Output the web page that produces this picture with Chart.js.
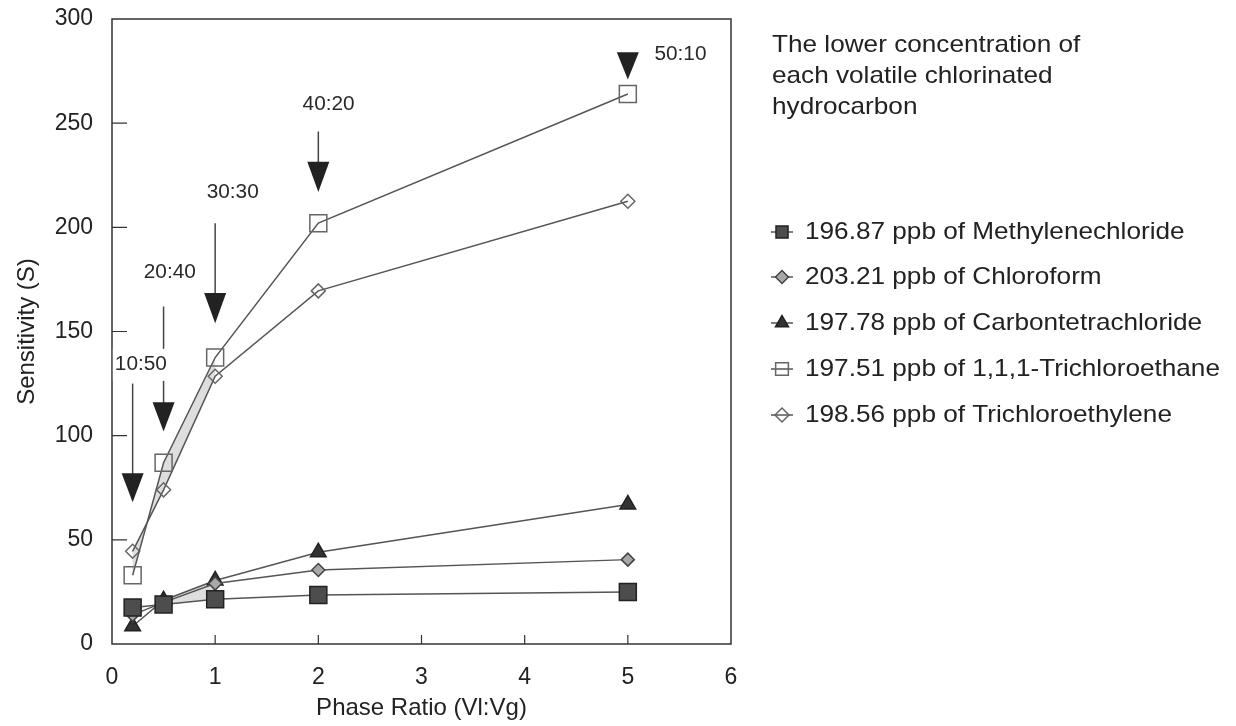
<!DOCTYPE html>
<html><head><meta charset="utf-8">
<script src="https://cdn.jsdelivr.net/npm/chart.js@4"></script>
<style>html,body{margin:0;padding:0;background:#fff}#wrap{width:1236px;height:726px}</style>
</head><body><div id="wrap"><canvas id="c" width="1236" height="726"></canvas></div>
<script>
// ---- data ----
const phaseRatios = [0.2, 0.5, 1, 2, 5];
const methylenechloride = [17.5, 19, 21.5, 23.5, 25];
const chloroform = [14, 20, 29, 35.5, 40.5];
const carbontetrachloride = [8.5, 21, 30.5, 44, 67];
const trichloroethane = [33, 87, 137.5, 202, 264];
const trichloroethylene = [44.5, 74, 128.5, 169.5, 212.5];
const seriesLabels = [
  '196.87 ppb of Methylenechloride',
  '203.21 ppb of Chloroform',
  '197.78 ppb of Carbontetrachloride',
  '197.51 ppb of 1,1,1-Trichloroethane',
  '198.56 ppb of Trichloroethylene'
];
const legendTitle = ['The lower concentration of', 'each volatile chlorinated', 'hydrocarbon'];
const xTicks = [0, 1, 2, 3, 4, 5, 6];
const yTicks = [0, 50, 100, 150, 200, 250, 300];
// arrow annotations (Vl:Vg) in data units
const arrowLabels = ['10:50', '20:40', '30:30', '40:20', '50:10'];
const arrowLineTop = [125, 162, 202, 246, null];
const arrowHeadTop = [82, 116, 168.5, 231.5, 284];
const arrowTip = [68, 102, 154, 217, 271];
const arrowLabelX = [0.28, 0.56, 1.17, 2.1, 5.51];
const arrowLabelY = [134, 178.5, 216.5, 259, 283];
// shaded bands between series (dataset index pairs, point index range)
const bands = [[3, 4, 0, 2], [2, 0, 1, 2]];

const FONT = '"Liberation Sans", Arial, sans-serif';
const TXT = '#222';
const LINE = '#555';

const styles = [
  {pointStyle: 'rect', radius: 12, bg: '#4d4d4d', border: '#222', lr: 8.5},
  {pointStyle: 'rectRot', radius: 6.5, bg: '#a8a8a8', border: '#444', lr: 6.5},
  {pointStyle: 'triangle', radius: 9, bg: '#333', border: '#222', lr: 7.5},
  {pointStyle: 'rect', radius: 12, bg: 'rgba(0,0,0,0)', border: '#666', lr: 9},
  {pointStyle: 'rectRot', radius: 7, bg: 'rgba(0,0,0,0)', border: '#666', lr: 7}
];
const seriesData = [methylenechloride, chloroform, carbontetrachloride, trichloroethane, trichloroethylene];

const datasets = seriesData.map((vals, i) => ({
  label: seriesLabels[i],
  data: phaseRatios.map((x, j) => ({x: x, y: vals[j]})),
  borderColor: LINE,
  borderWidth: 1.5,
  pointStyle: styles[i].pointStyle,
  pointRadius: styles[i].radius,
  pointBackgroundColor: styles[i].bg,
  pointBorderColor: styles[i].border,
  pointBorderWidth: 1.5,
  tension: 0,
  fill: false
}));

function drawMarker(ctx, style, r, x, y, bg, border) {
  ctx.save();
  ctx.fillStyle = bg; ctx.strokeStyle = border; ctx.lineWidth = 1.5;
  ctx.beginPath();
  if (style === 'rect') {
    const s = r * Math.SQRT1_2;
    ctx.rect(x - s, y - s, 2 * s, 2 * s);
  } else if (style === 'rectRot') {
    ctx.moveTo(x - r, y); ctx.lineTo(x, y - r); ctx.lineTo(x + r, y); ctx.lineTo(x, y + r); ctx.closePath();
  } else if (style === 'triangle') {
    ctx.moveTo(x, y - r);
    ctx.lineTo(x + r * Math.sin(2 * Math.PI / 3), y + r * 0.5);
    ctx.lineTo(x - r * Math.sin(2 * Math.PI / 3), y + r * 0.5);
    ctx.closePath();
  }
  ctx.fill(); ctx.stroke();
  ctx.restore();
}

const framePlugin = {
  id: 'frame',
  beforeDatasetsDraw(chart) {
    const {ctx, chartArea: a, scales} = chart;
    ctx.save();
    // light shaded bands between neighbouring lines
    ctx.fillStyle = '#dedede';
    bands.forEach(([d1, d2, i0, i1]) => {
      const m1 = chart.getDatasetMeta(d1).data, m2 = chart.getDatasetMeta(d2).data;
      ctx.beginPath();
      for (let k = i0; k <= i1; k++) { const p = m1[k]; k === i0 ? ctx.moveTo(p.x, p.y) : ctx.lineTo(p.x, p.y); }
      for (let k = i1; k >= i0; k--) { const p = m2[k]; ctx.lineTo(p.x, p.y); }
      ctx.closePath(); ctx.fill();
    });
    ctx.strokeStyle = '#333'; ctx.lineWidth = 1.5;
    ctx.strokeRect(a.left, a.top, a.right - a.left, a.bottom - a.top);
    ctx.lineWidth = 1.2;
    ctx.beginPath();
    yTicks.forEach(v => {
      if (v === 0 || v === 300) return;
      const py = scales.y.getPixelForValue(v);
      ctx.moveTo(a.left, py); ctx.lineTo(a.left + 15, py);
    });
    xTicks.forEach(v => {
      if (v === 0 || v === 6) return;
      const px = scales.x.getPixelForValue(v);
      ctx.moveTo(px, a.bottom); ctx.lineTo(px, a.bottom - 9);
    });
    ctx.stroke();
    ctx.restore();
  }
};

function wideText(ctx, t, x, y, sx) {
  ctx.save();
  ctx.translate(x, y); ctx.scale(sx, 1);
  ctx.fillText(t, 0, 0);
  ctx.restore();
}

const annotPlugin = {
  id: 'annot',
  afterDatasetsDraw(chart) {
    const {ctx, scales} = chart;
    const X = scales.x, Y = scales.y;
    ctx.save();
    ctx.strokeStyle = '#444'; ctx.fillStyle = '#222'; ctx.lineWidth = 1.5;
    arrowLabels.forEach((lab, i) => {
      const px = X.getPixelForValue(phaseRatios[i]);
      const ht = Y.getPixelForValue(arrowHeadTop[i]);
      const tip = Y.getPixelForValue(arrowTip[i]);
      if (arrowLineTop[i] !== null) {
        const lt = Y.getPixelForValue(arrowLineTop[i]);
        ctx.beginPath(); ctx.moveTo(px, lt); ctx.lineTo(px, ht + 2); ctx.stroke();
      }
      ctx.beginPath();
      ctx.moveTo(px - 11, ht); ctx.lineTo(px + 11, ht); ctx.lineTo(px, tip); ctx.closePath();
      ctx.fill();
    });
    ctx.font = '20px ' + FONT;
    ctx.textAlign = 'center'; ctx.textBaseline = 'middle';
    arrowLabels.forEach((lab, i) => {
      const lx = X.getPixelForValue(arrowLabelX[i]);
      const ly = Y.getPixelForValue(arrowLabelY[i]);
      const w = ctx.measureText(lab).width * 1.04;
      ctx.fillStyle = '#fff';
      ctx.fillRect(lx - w / 2 - 2, ly - 16, w + 4, 32);
      ctx.fillStyle = '#2a2a2a';
      wideText(ctx, lab, lx, ly, 1.04);
    });
    ctx.restore();
  },
  afterDraw(chart) {
    const ctx = chart.ctx;
    ctx.save();
    ctx.fillStyle = TXT;
    ctx.font = '24px ' + FONT;
    ctx.textAlign = 'left'; ctx.textBaseline = 'middle';
    legendTitle.forEach((t, i) => wideText(ctx, t, 772, 45 + i * 31, 1.09));
    const rowY = [232, 277, 323, 369, 415];
    seriesLabels.forEach((t, i) => {
      const y = rowY[i];
      ctx.strokeStyle = LINE; ctx.lineWidth = 1.5;
      ctx.beginPath(); ctx.moveTo(771, y); ctx.lineTo(793, y); ctx.stroke();
      drawMarker(ctx, styles[i].pointStyle, styles[i].lr, 782, y, styles[i].bg, styles[i].border);
      ctx.fillStyle = TXT;
      wideText(ctx, t, 805, y, 1.09);
    });
    ctx.restore();
  }
};

Chart.defaults.font.family = FONT;
Chart.defaults.color = TXT;

const hiddenTicks = {display: true, drawOnChartArea: false, drawTicks: true, color: 'rgba(0,0,0,0)'};

new Chart(document.getElementById('c'), {
  type: 'line',
  data: {datasets},
  options: {
    responsive: false,
    animation: false,
    devicePixelRatio: 1,
    layout: {padding: {left: 0, right: 505, top: 19, bottom: 0}},
    plugins: {legend: {display: false}, tooltip: {enabled: false}},
    scales: {
      x: {
        type: 'linear', min: 0, max: 6,
        afterBuildTicks: s => { s.ticks = xTicks.map(v => ({value: v})); },
        afterFit: s => { s.height = 82; },
        grid: Object.assign({tickLength: 20}, hiddenTicks),
        border: {display: false},
        ticks: {font: {size: 23}, padding: 0, color: TXT},
        title: {display: true, text: 'Phase Ratio (Vl:Vg)', font: {size: 24}, padding: {top: 0, bottom: 3}, color: TXT}
      },
      y: {
        type: 'linear', min: 0, max: 300,
        afterBuildTicks: s => { s.ticks = yTicks.map(v => ({value: v})); },
        afterFit: s => { s.width = 112; },
        grid: Object.assign({tickLength: 19}, hiddenTicks),
        border: {display: false},
        ticks: {font: {size: 23}, padding: 0, color: TXT},
        title: {display: true, text: 'Sensitivity (S)', font: {size: 24}, padding: {top: 13, bottom: 0}, color: TXT}
      }
    }
  },
  plugins: [framePlugin, annotPlugin]
});
</script>
</body></html>
